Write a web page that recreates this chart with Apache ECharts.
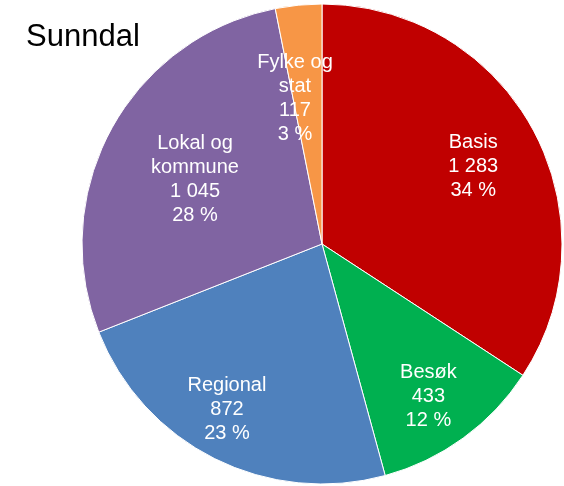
<!DOCTYPE html>
<html>
<head>
<meta charset="utf-8">
<script src="https://cdn.jsdelivr.net/npm/echarts@6/dist/echarts.min.js"></script>
<style>html,body{margin:0;padding:0;background:#fff;}#c{width:564px;height:486px;}</style>
</head>
<body>
<div id="c"></div>
<script>
const title = 'Sunndal';
const categories = ['Basis', 'Besøk', 'Regional', 'Lokal og\nkommune', 'Fylke og\nstat'];
const values = [1283, 433, 872, 1045, 117];
const percentLabels = ['34 %', '12 %', '23 %', '28 %', '3 %'];
const colors = ['#C00000', '#00B050', '#4F81BD', '#8064A2', '#F79646'];
const labelShift = [[43, -19], [34, 53], [-40, 55], [-19, -6], [-15, -23]];

function fmt(n) { return String(n).replace(/\B(?=(\d{3})+(?!\d))/g, ' '); }

const chart = echarts.init(document.getElementById('c'), null, {renderer: 'canvas'});
chart.setOption({
  animation: false,
  title: {
    text: title, left: 21, top: 17,
    textStyle: {fontFamily: 'Liberation Sans, Arial', fontSize: 31, fontWeight: 'normal', color: '#000'}
  },
  series: [{
    type: 'pie',
    center: [322, 244],
    radius: [0, 240],
    startAngle: 90,
    clockwise: true,
    data: categories.map((c, i) => ({name: c, value: values[i], itemStyle: {color: colors[i]}})),
    itemStyle: {borderColor: '#ffffff', borderWidth: 1},
    label: {
      show: true, position: 'inside',
      fontFamily: 'Liberation Sans, Arial', fontSize: 20, lineHeight: 24,
      color: '#fff', align: 'center',
      formatter: p => p.name + '\n' + fmt(p.value) + '\n' + percentLabels[p.dataIndex]
    },
    labelLayout: p => ({dx: labelShift[p.dataIndex][0], dy: labelShift[p.dataIndex][1]}),
    labelLine: {show: false}
  }]
});
</script>
</body>
</html>
